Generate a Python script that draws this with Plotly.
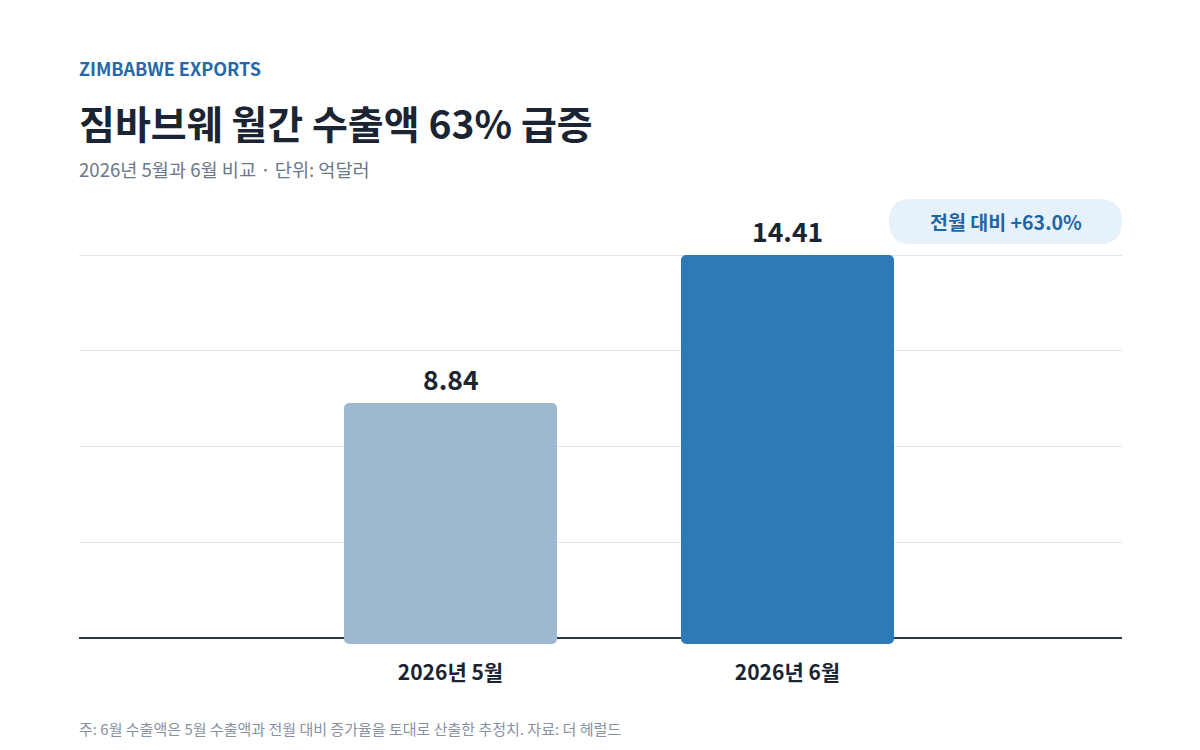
import plotly.graph_objects as go

categories = ["2026년 5월", "2026년 6월"]
values = [8.84, 14.41]
value_labels = ["8.84", "14.41"]
bar_colors = ["#9eb8cf", "#2e7ab6"]
badge_text = "전월 대비 +63.0%"
eyebrow = "ZIMBABWE EXPORTS"
title_text = "짐바브웨 월간 수출액 63% 급증"
subtitle_text = "2026년 5월과 6월 비교 · 단위: 억달러"
footer_text = "주: 6월 수출액은 5월 수출액과 전월 대비 증가율을 토대로 산출한 추정치. 자료: 더 헤럴드"

FONT = "Noto Sans CJK KR"
OFF = 8  # page body margin
W, H = 1200 - 2 * OFF, 750 - 2 * OFF
ML, MT = 79 - OFF, 200 - OFF
MR = W - (1122 - OFF)
MB = H - (650 - OFF)
PW, PH = W - ML - MR, H - MT - MB

ymax = max(values)
y_lo, y_hi = -0.45, ymax + 2.07
grid_vals = [ymax * k / 4 for k in range(0, 5)]

def py(px):
    return (H - MB - (px - OFF)) / PH

def pxx(px):
    return (px - OFF - ML) / PW

fig = go.Figure()
fig.add_trace(go.Bar(
    x=categories, y=[v + 0.22 for v in values], base=-0.22,
    marker=dict(color=bar_colors, line=dict(width=0)),
    width=0.632, hoverinfo="skip",
))

for c, v, t in zip(categories, values, value_labels):
    fig.add_annotation(x=c, y=v, xref="x", yref="y", text=t, showarrow=False,
                       yanchor="bottom", yshift=3,
                       font=dict(family=FONT, size=26.5, color="#1b2432", weight="bold"))

LX = pxx(77)
# header texts
fig.add_annotation(x=LX, y=py(68), xref="paper", yref="paper", xanchor="left", yanchor="middle",
                   text=eyebrow, showarrow=False,
                   font=dict(family=FONT, size=18, color="#2468aa", weight="bold"))
fig.add_annotation(x=LX, y=py(122), xref="paper", yref="paper", xanchor="left", yanchor="middle",
                   text=title_text, showarrow=False,
                   font=dict(family=FONT, size=39, color="#1b2432", weight="bold"))
fig.add_annotation(x=LX, y=py(168), xref="paper", yref="paper", xanchor="left", yanchor="middle",
                   text=subtitle_text, showarrow=False,
                   font=dict(family=FONT, size=18.6, color="#6b7889"))
fig.add_annotation(x=LX, y=py(728), xref="paper", yref="paper", xanchor="left", yanchor="middle",
                   text=footer_text, showarrow=False,
                   font=dict(family=FONT, size=15, color="#8792a1"))

# badge
bx0, bx1, by0, by1, r = 889, 1122, 199, 244, 22.5
rx, ry = r / PW, r / PH
X0, X1, Y0, Y1 = pxx(bx0), pxx(bx1), py(by1), py(by0)
path = (f"M {X0+rx},{Y0} L {X1-rx},{Y0} Q {X1},{Y0} {X1},{Y0+ry} "
        f"L {X1},{Y1-ry} Q {X1},{Y1} {X1-rx},{Y1} L {X0+rx},{Y1} "
        f"Q {X0},{Y1} {X0},{Y1-ry} L {X0},{Y0+ry} Q {X0},{Y0} {X0+rx},{Y0} Z")
fig.add_shape(type="path", path=path, xref="paper", yref="paper",
              fillcolor="#e7f1fa", line=dict(width=0), layer="below")
fig.add_annotation(x=(X0 + X1) / 2, y=(Y0 + Y1) / 2, xref="paper", yref="paper",
                   text=badge_text, showarrow=False, xanchor="center", yanchor="middle",
                   font=dict(family=FONT, size=19.5, color="#1f66a8", weight="bold"))

fig.update_layout(
    width=W, height=H,
    margin=dict(l=ML, r=MR, t=MT, b=MB, autoexpand=False),
    paper_bgcolor="white", plot_bgcolor="white",
    showlegend=False,
    barcornerradius=5,
    xaxis=dict(type="category", range=[-1.1024, 1.9926], showgrid=False, zeroline=False,
               showline=False, ticks="", ticklabelstandoff=8,
               tickfont=dict(family=FONT, size=21, color="#1b2432", weight="bold")),
    yaxis=dict(range=[y_lo, y_hi], tickvals=grid_vals, showticklabels=False,
               showgrid=True, gridcolor="#dfe5ec", gridwidth=1,
               zeroline=True, zerolinecolor="#2b3a4f", zerolinewidth=2,
               showline=False, fixedrange=True),
)

fig.write_html("out.html")
